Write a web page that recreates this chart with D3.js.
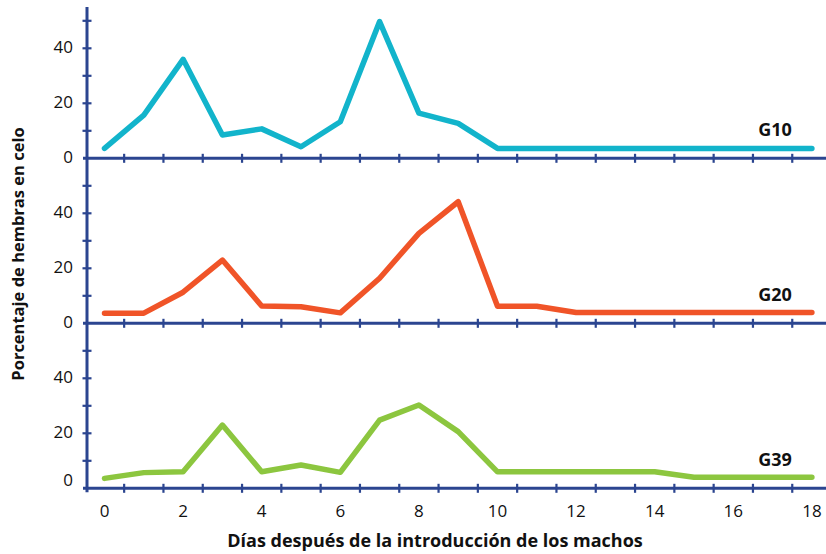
<!DOCTYPE html>
<html>
<head>
<meta charset="utf-8">
<script src="https://cdn.jsdelivr.net/npm/d3@7"></script>
<style>
  html, body { margin: 0; padding: 0; background: #ffffff; }
  svg { display: block; }
  text { font-family: "Open Sans", "Noto Sans", sans-serif; fill: #111; }
</style>
</head>
<body>
<svg id="chart" width="826" height="554"></svg>
<script>
// ---- data ----
const days = [0, 1, 2, 3, 4, 5, 6, 7, 8, 9, 10, 11, 12, 13, 14, 15, 16, 17, 18];
const groups = ["G10", "G20", "G39"];
const g10 = [3.6, 15.7, 36, 8.5, 10.7, 4.2, 13.3, 49.7, 16.4, 12.7, 3.6, 3.6, 3.6, 3.6, 3.6, 3.6, 3.6, 3.6, 3.6];
const g20 = [3.7, 3.7, 11.3, 23, 6.3, 6.0, 3.8, 16.4, 32.7, 44.2, 6.2, 6.2, 3.9, 3.9, 3.9, 3.9, 3.9, 3.9, 3.9];
const g39 = [3.6, 5.7, 6.0, 23, 6.0, 8.5, 5.8, 24.8, 30.3, 20.6, 6.0, 6.0, 6.0, 6.0, 6.0, 4.0, 4.0, 4.0, 4.0];
const yTickLabels = [0, 20, 40];
const yMinorTicks = [10, 30, 50];
const xTickLabels = [0, 2, 4, 6, 8, 10, 12, 14, 16, 18];
const xTitle = "Días después de la introducción de los machos";
const yTitle = "Porcentaje de hembras en celo";
const seriesValues = [g10, g20, g39];
const colors = ["#12B4CB", "#F05428", "#8CC63F"];
const axisColor = "#2B4590";

// ---- layout ----
const svg = d3.select("#chart");
const axisX = 87;
const firstZero = 158.3;
const panelH = 165;

const x = d3.scaleLinear().domain([-0.5, 18.5]).range([84.85, 84.85 + 19 * 39.3]);
const yScales = groups.map((g, i) =>
  d3.scaleLinear().domain([0, 60]).range([firstZero + panelH * i, firstZero + panelH * i - panelH]));

// series lines
const line = d3.line();
seriesValues.forEach((vals, i) => {
  const y = yScales[i];
  svg.append("path")
    .attr("d", line(days.map((d, j) => [x(d), y(vals[j])])))
    .attr("fill", "none")
    .attr("stroke", colors[i])
    .attr("stroke-width", 5.5)
    .attr("stroke-linejoin", "round")
    .attr("stroke-linecap", "round");
});

// vertical axis line
svg.append("line")
  .attr("x1", axisX).attr("x2", axisX)
  .attr("y1", yScales[0](55)).attr("y2", yScales[2](0) + 4)
  .attr("stroke", axisColor).attr("stroke-width", 3);

const betweenTicks = days.slice(0, -1).map(d => d + 0.5);

groups.forEach((g, i) => {
  const y = yScales[i];
  const last = i === groups.length - 1;
  // horizontal axis
  svg.append("line")
    .attr("x1", axisX - 4).attr("x2", 826)
    .attr("y1", y(0)).attr("y2", y(0))
    .attr("stroke", axisColor).attr("stroke-width", 3);
  // x crossing ticks
  svg.append("g").selectAll("line").data(betweenTicks).join("line")
    .attr("x1", d => x(d)).attr("x2", d => x(d))
    .attr("y1", y(0) - 4.5).attr("y2", y(0) + 4.5)
    .attr("stroke", axisColor).attr("stroke-width", 2.2);
  // y crossing ticks
  const allY = yTickLabels.filter(v => v > 0).concat(yMinorTicks);
  svg.append("g").selectAll("line").data(allY).join("line")
    .attr("x1", axisX - 4.5).attr("x2", axisX + 4.5)
    .attr("y1", d => y(d)).attr("y2", d => y(d))
    .attr("stroke", axisColor).attr("stroke-width", 2.2);
  // y tick labels
  svg.append("g").selectAll("text").data(yTickLabels).join("text")
    .attr("x", axisX - 14)
    .attr("y", d => y(d) - (last && d === 0 ? 8 : 1.5))
    .attr("dy", "0.36em")
    .attr("text-anchor", "end")
    .attr("font-size", 17)
    .text(d => d);
  // group label
  svg.append("text")
    .attr("x", 775)
    .attr("y", y(0) - 22)
    .attr("text-anchor", "middle")
    .attr("font-size", 18)
    .attr("font-weight", "bold")
    .text(g);
});

// x tick labels under last panel
const yLast = yScales[2];
svg.append("g").selectAll("text").data(xTickLabels).join("text")
  .attr("x", d => x(d))
  .attr("y", yLast(0) + 29)
  .attr("text-anchor", "middle")
  .attr("font-size", 17)
  .text(d => d);

// axis titles
svg.append("text")
  .attr("x", 435)
  .attr("y", 547)
  .attr("text-anchor", "middle")
  .attr("font-size", 18)
  .attr("font-weight", "bold")
  .text(xTitle);

svg.append("text")
  .attr("transform", "translate(24,254) rotate(-90)")
  .attr("text-anchor", "middle")
  .attr("font-size", 16.5)
  .attr("font-weight", "bold")
  .text(yTitle);
</script>
</body>
</html>
